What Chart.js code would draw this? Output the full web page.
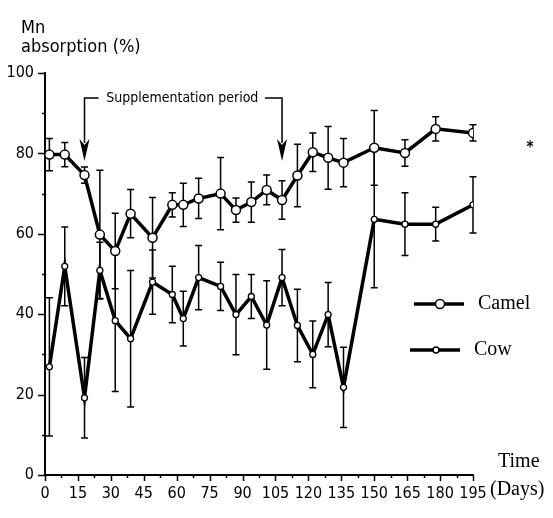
<!DOCTYPE html>
<html>
<head>
<meta charset="utf-8">
<script src="https://cdn.jsdelivr.net/npm/chart.js@4.4.0/dist/chart.umd.min.js"></script>
<style>
  html, body { margin: 0; padding: 0; background: #fff; }
  #wrap { width: 553px; height: 518px; }
</style>
</head>
<body>
<div id="wrap"><canvas id="mnChart" width="553" height="518"></canvas></div>
<script>
// ==============================
// DATA
// ==============================
const days = [2, 9, 18, 25, 32, 39, 49, 58, 63, 70, 80, 87, 94, 101, 108, 115, 122, 129, 136, 150, 164, 178, 195];

const camelMean = [79.7, 79.7, 74.6, 59.8, 55.7, 65.0, 59.0, 67.2, 67.2, 68.8, 70.0, 65.9, 67.9, 70.9, 68.4, 74.5, 80.3, 78.9, 77.7, 81.4, 80.1, 86.1, 85.1];
const camelErr  = [4.0, 3.0, 2.0, 16.0, 9.4, 6.0, 10.0, 3.0, 5.4, 5.0, 9.0, 3.0, 5.0, 3.7, 4.8, 7.8, 4.8, 7.8, 6.0, 9.3, 3.3, 3.0, 2.0];

const cowMean = [26.9, 51.9, 19.2, 50.9, 38.4, 33.9, 48.0, 44.9, 38.9, 49.1, 46.9, 39.9, 44.4, 37.3, 49.1, 37.2, 30.0, 39.9, 21.8, 63.6, 62.4, 62.4, 67.2];
const cowErr  = [17.2, 9.8, 10.0, 7.0, 17.6, 17.0, 8.0, 7.0, 6.8, 8.0, 6.0, 10.0, 5.5, 11.0, 7.0, 9.0, 8.3, 8.0, 10.0, 17.0, 7.8, 4.2, 7.0];

const xTicks = [0, 15, 30, 45, 60, 75, 90, 105, 120, 135, 150, 165, 180, 195];
const yTicks = [0, 20, 40, 60, 80, 100];

const seriesNames = ['Camel', 'Cow'];
const supplementStart = 18;
const supplementEnd = 108;

// ==============================
// FONTS
// ==============================
const narrow = "'Liberation Sans Narrow', 'DejaVu Sans Condensed', sans-serif";
const serif = "'Liberation Serif', 'DejaVu Serif', serif";

// ==============================
// ERROR BARS + EXTRA MARKS PLUGIN
// ==============================
const errorBars = {
  id: 'errorBars',
  beforeDatasetsDraw(chart) {
    const ctx = chart.ctx;
    const x = chart.scales.x, y = chart.scales.y;
    const errs = [camelErr, cowErr];
    ctx.save();
    ctx.strokeStyle = '#000';
    ctx.lineWidth = 1.5;
    chart.data.datasets.forEach((ds, i) => {
      ds.data.forEach((p, j) => {
        const px = x.getPixelForValue(p.x);
        const top = y.getPixelForValue(p.y + errs[i][j]);
        const bot = y.getPixelForValue(p.y - errs[i][j]);
        ctx.beginPath();
        ctx.moveTo(px, top); ctx.lineTo(px, bot);
        ctx.moveTo(px - 3.5, top); ctx.lineTo(px + 3.5, top);
        ctx.moveTo(px - 3.5, bot); ctx.lineTo(px + 3.5, bot);
        ctx.stroke();
      });
    });
    ctx.restore();
  },
  afterDraw(chart) {
    const ctx = chart.ctx;
    const x = chart.scales.x, y = chart.scales.y;
    ctx.save();
    ctx.strokeStyle = '#000';
    ctx.fillStyle = '#000';

    // tick marks (major + minor)
    ctx.lineWidth = 1.5;
    for (let d = 0; d <= 195; d += 7.5) {
      const px = Math.round(x.getPixelForValue(d)) + 0.5;
      const len = d % 15 === 0 ? 6 : 3;
      ctx.beginPath(); ctx.moveTo(px, y.bottom); ctx.lineTo(px, y.bottom + len); ctx.stroke();
    }
    for (let v = 0; v <= 100; v += 10) {
      const py = Math.round(y.getPixelForValue(v)) + 0.5;
      const len = v % 20 === 0 ? 7 : 3;
      ctx.beginPath(); ctx.moveTo(x.left, py); ctx.lineTo(x.left - len, py); ctx.stroke();
    }

    // y axis title
    ctx.font = '18px ' + narrow;
    ctx.textAlign = 'left';
    ctx.textBaseline = 'middle';
    ctx.fillText('Mn', 21, 28);
    ctx.fillText('absorption (%)', 21, 47);

    // x axis title
    ctx.font = '20px ' + serif;
    ctx.fillText('Time', 498, 462);
    ctx.fillText('(Days)', 490, 490);

    // supplementation bracket
    const x1 = x.getPixelForValue(supplementStart);
    const x2 = x.getPixelForValue(supplementEnd);
    const yTop = 98, tip = 161, head = 139;
    ctx.lineWidth = 1.5;
    ctx.beginPath();
    ctx.moveTo(x1 + 14, yTop); ctx.lineTo(x1, yTop); ctx.lineTo(x1, head + 4);
    ctx.moveTo(x2 - 17, yTop); ctx.lineTo(x2, yTop); ctx.lineTo(x2, head + 4);
    ctx.stroke();
    [x1, x2].forEach(ax => {
      ctx.beginPath();
      ctx.moveTo(ax - 5, head); ctx.lineTo(ax, tip); ctx.lineTo(ax + 5, head);
      ctx.lineTo(ax, head + 6); ctx.closePath(); ctx.fill();
    });
    ctx.font = '14px ' + narrow;
    ctx.textAlign = 'center';
    ctx.fillText('Supplementation period', (x1 + x2) / 2 - 1, yTop);

    // legend
    const legendY = [304, 350];
    const legendX = [414, 410];
    chart.data.datasets.forEach((ds, i) => {
      const lx = legendX[i], ly = legendY[i];
      ctx.lineWidth = 3.5;
      ctx.beginPath(); ctx.moveTo(lx, ly); ctx.lineTo(lx + 50, ly); ctx.stroke();
      ctx.beginPath();
      ctx.arc(lx + 26, ly, ds.pointRadius, 0, Math.PI * 2);
      ctx.fillStyle = '#fff'; ctx.fill();
      ctx.lineWidth = 1.5; ctx.stroke();
      ctx.fillStyle = '#000';
      ctx.font = '20px ' + serif;
      ctx.textAlign = 'left';
      ctx.fillText(seriesNames[i], lx + 64, ly);
    });

    // stray mark from the scan
    ctx.font = 'bold 15px ' + narrow;
    ctx.textAlign = 'center';
    ctx.fillText('*', 530, 148);
    ctx.restore();
  }
};

// ==============================
// CHART
// ==============================
const toPoints = vals => vals.map((v, i) => ({ x: days[i], y: v }));

new Chart(document.getElementById('mnChart'), {
  type: 'line',
  data: {
    datasets: [{
      label: seriesNames[0],
      data: toPoints(camelMean),
      borderColor: '#000',
      borderWidth: 3.5,
      pointRadius: 4.5,
      pointBackgroundColor: '#fff',
      pointBorderColor: '#000',
      pointBorderWidth: 1.5,
      tension: 0
    }, {
      label: seriesNames[1],
      data: toPoints(cowMean),
      borderColor: '#000',
      borderWidth: 3.5,
      pointRadius: 3,
      pointBackgroundColor: '#fff',
      pointBorderColor: '#000',
      pointBorderWidth: 1.3,
      tension: 0
    }]
  },
  options: {
    responsive: false,
    animation: false,
    layout: { padding: { top: 73, right: 80, left: 0, bottom: 0 } },
    plugins: { legend: { display: false }, tooltip: { enabled: false } },
    scales: {
      x: {
        type: 'linear',
        min: 0, max: 195,
        afterFit: s => { s.height = 43; },
        afterBuildTicks: s => { s.ticks = xTicks.map(v => ({ value: v })); },
        ticks: { color: '#000', font: { family: narrow, size: 16 }, padding: 9, maxRotation: 0, autoSkip: false },
        grid: { display: false, drawTicks: false },
        border: { display: true, color: '#000', width: 2 }
      },
      y: {
        min: 0, max: 100,
        afterFit: s => { s.width = 45; },
        afterBuildTicks: s => { s.ticks = yTicks.map(v => ({ value: v })); },
        ticks: { color: '#000', font: { family: narrow, size: 16 }, padding: 11 },
        grid: { display: false, drawTicks: false },
        border: { display: true, color: '#000', width: 2 }
      }
    }
  },
  plugins: [errorBars]
});
</script>
</body>
</html>
